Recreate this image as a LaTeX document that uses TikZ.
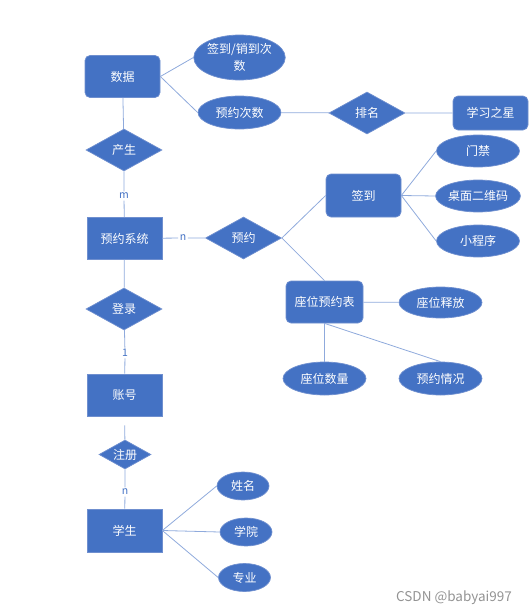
\documentclass[tikz,border=0pt]{standalone}
\usepackage{fontspec}
\setmainfont{Noto Sans CJK SC}
\usepackage{tikz}
\usetikzlibrary{shapes, positioning}
\definecolor{erblue}{HTML}{4472C4}
\definecolor{erline}{HTML}{8FAADC}
\definecolor{eredge}{HTML}{6F8FCF}

\begin{document}
\begin{tikzpicture}[x=1pt, y=-1pt,
  er/.style={fill=erblue, draw=eredge, line width=0.7pt, text=white, font=\fontsize{12}{17}\selectfont, inner sep=0pt},
  entity/.style={er, rectangle, minimum width=75pt, minimum height=42pt},
  roundbox/.style={entity, rounded corners=5pt},
  attr/.style={er, ellipse, minimum width=83pt, minimum height=33pt},
  smallattr/.style={attr, minimum width=52pt, minimum height=28pt},
  rel/.style={er, diamond, aspect=1.8, minimum width=76pt, minimum height=42pt},
  card/.style={text=erblue, font=\fontsize{10.5}{12}\selectfont, inner sep=1.5pt},
  link/.style={draw=erline, line width=0.8pt}]
  \useasboundingbox (0,0) rectangle (531,613);
  % data part
  \node[roundbox] (shuju) at (122.5,76.5) {数据};
  \node[attr, minimum height=45pt, align=center] (qdcs) at (239.5,57.5) {签到/销到次\\数};
  \node[attr] (yycs) at (239.5,112.5) {预约次数};
  \node[rel] (paiming) at (367,113) {排名};
  \node[roundbox, minimum height=34pt] (xxzx) at (490.5,113) {学习之星};
  \node[rel] (chansheng) at (124,150) {产生};
  \node[card] (m1) at (124,196) {m};
  % booking system
  \node[entity] (xitong) at (124.5,238.5) {预约系统};
  \node[card] (n1) at (183,238) {n};
  \node[rel] (yuyue) at (243.5,238) {预约};
  \node[roundbox, minimum height=43pt] (qiandao) at (363.5,195.5) {签到};
  \node[attr, minimum height=32pt] (menjin) at (478,151) {门禁};
  \node[attr, minimum height=32pt] (zhuomian) at (478,196) {桌面二维码};
  \node[attr, minimum height=32pt] (xcx) at (478,241) {小程序};
  \node[roundbox, minimum width=77pt] (zwb) at (324.5,302) {座位预约表};
  \node[attr, minimum height=31pt] (shifang) at (440.5,302.5) {座位释放};
  \node[attr] (shuliang) at (324.5,378.5) {座位数量};
  \node[attr] (qingkuang) at (440.5,378.5) {预约情况};
  % account and student
  \node[rel] (denglu) at (124,309) {登录};
  \node[card] (one) at (125,353) {1};
  \node[entity] (zhanghao) at (124.5,395) {账号};
  \node[rel, minimum width=52pt, minimum height=29pt] (zhuce) at (125,454.5) {注册};
  \node[card] (n2) at (125,492) {n};
  \node[entity, minimum height=43pt] (xuesheng) at (124.5,530.5) {学生};
  \node[smallattr] (xingming) at (243,486) {姓名};
  \node[smallattr] (xueyuan) at (246,532) {学院};
  \node[smallattr] (zhuanye) at (244.5,577.5) {专业};
  \node[text=gray!85, font=\fontsize{13.5}{15}\selectfont, anchor=base, inner sep=0pt] (csdn) at (454,601) {CSDN @babyai997};
  % connectors
  \draw[link] (shuju.east) -- (qdcs.west);
  \draw[link] (shuju.east) -- (yycs.west);
  \draw[link] (yycs) -- (paiming) -- (xxzx);
  \draw[link] (shuju) -- (chansheng) -- (m1) -- (xitong);
  \draw[link] (xitong) -- (n1) -- (yuyue);
  \draw[link] (yuyue.east) -- (qiandao.west);
  \draw[link] (yuyue.east) -- (zwb.north);
  \foreach \a in {menjin, zhuomian, xcx} {
    \draw[link] (qiandao.east) -- (\a.west);
  }
  \draw[link] (zwb) -- (shifang);
  \draw[link] (zwb.south) -- (shuliang.north);
  \draw[link] (zwb.south) -- (qingkuang.north);
  \draw[link] (xitong) -- (denglu) -- (one) -- (zhanghao);
  \draw[link, shorten <=9pt] (zhanghao) -- (zhuce);
  \draw[link] (zhuce) -- (n2) -- (xuesheng);
  \foreach \a in {xingming, xueyuan, zhuanye} {
    \draw[link] (xuesheng.east) -- (\a.west);
  }
\end{tikzpicture}
\end{document}
